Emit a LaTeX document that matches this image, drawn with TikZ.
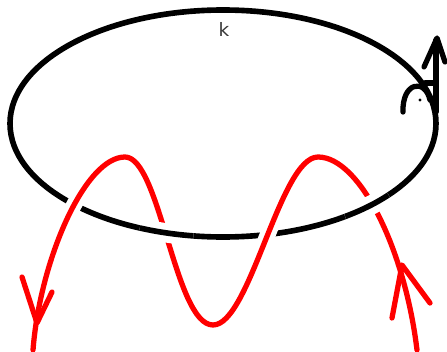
\documentclass[tikz,border=0pt]{standalone}
\usepackage{fontspec}
\setmainfont{DejaVu Sans}
\usepackage{xcolor}
\usetikzlibrary{arrows.meta}
\definecolor{ink}{HTML}{000000}
\definecolor{strandred}{HTML}{FF0000}
\definecolor{labelgray}{HTML}{383838}
\tikzset{
  knotline/.style={draw=ink,line width=3.2pt},
  strand/.style={draw=strandred,line width=3pt,line cap=round,line join=round},
  under/.style={preaction={draw=white,line width=9pt}},
  overpass/.style={knotline,preaction={draw=white,line width=11pt}},
  normal/.style={draw=ink,line width=3pt,line cap=round,line join=round},
  lbl/.style={font=\fontsize{10.5}{12}\selectfont,text=labelgray,inner sep=0pt}
}
\begin{document}
\begin{tikzpicture}[x=0.02cm,y=-0.02cm]
  \useasboundingbox (0,0) rectangle (447,352);
  % the knot k
  \draw[knotline] (223,123.5) ellipse[x radius=213,y radius=113.5];
  \node[lbl] (k) at (224,29) {k};

  % red strand, passing over k where the white halo cuts it
  \draw[strand,under] (33,350) .. controls (40,260) and (85,157) .. (125,157)
    .. controls (160,157) and (175,325) .. (213,325)
    .. controls (250,325) and (280,157) .. (318,157)
    .. controls (360,157) and (405,250) .. (417,350);

  % k passes over the strand here
  \draw[overpass] plot[domain=98:113,samples=20] ({223+213*cos(\x)},{123.5+113.5*sin(\x)});
  \draw[overpass] plot[domain=39:55,samples=20] ({223+213*cos(\x)},{123.5+113.5*sin(\x)});

  % arrowheads on the strand
  \draw[strand] (22,277) -- (37,323) -- (52,292);
  \draw[strand] (392,318) -- (402,265) -- (430,303);

  % normal vector with angle mark
  \draw[normal] (436,112) -- (436,40);
  \draw[normal] (424,67) -- (437,38) -- (445,62);
  \draw[normal] (425,83) -- (436,83);
  \draw[normal] (403,112) .. controls (402,82) and (425,78) .. (430,100);
  \fill[ink] (420,100) circle[radius=1.6];
\end{tikzpicture}
\end{document}
